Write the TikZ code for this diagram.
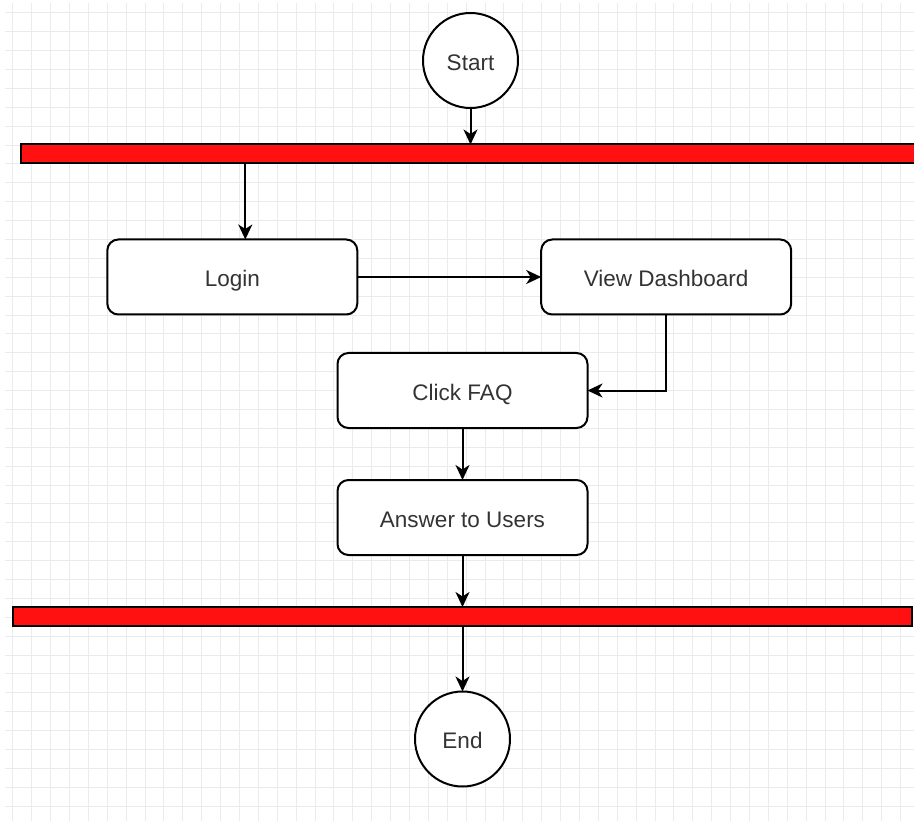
\documentclass[tikz,border=0pt]{standalone}
\usepackage{fontspec}
\setmainfont{Liberation Sans}
\usetikzlibrary{arrows.meta,calc}
\definecolor{gridc}{HTML}{EBEBEB}
\definecolor{txt}{HTML}{333333}
\definecolor{barred}{HTML}{FF1111}
\tikzset{
  txtstyle/.style={text=txt, font=\fontsize{22.5}{27}\selectfont,
    text height=19.2pt, text depth=0pt},
  box/.style={draw=black, line width=2pt, rounded corners=11pt, fill=white,
    minimum width=250pt, minimum height=75pt, inner sep=0pt, outer sep=0pt,
    txtstyle},
  term/.style={draw=black, line width=2pt, circle, fill=white,
    minimum size=95pt, inner sep=0pt, outer sep=0pt, txtstyle},
  bar/.style={draw=black, line width=2pt, fill=barred, rectangle,
    minimum height=19pt, inner sep=0pt, outer sep=0pt},
  arr/.style={draw=black, line width=2pt,
    -{Stealth[length=15pt,width=14pt,inset=4.5pt]}},
}
\begin{document}
\begin{tikzpicture}[x=1pt,y=-1pt]
\clip (0,0) rectangle (914,821);
\fill[white] (0,0) rectangle (914,821);
% grid
\foreach \k in {0,...,48} {
  \draw[gridc, line width=1pt] ({12.8+\k*18.89},3) -- ({12.8+\k*18.89},821);
}
\foreach \k in {0,...,43} {
  \draw[gridc, line width=1pt] (5,{12.8+\k*18.89}) -- (914,{12.8+\k*18.89});
}
% nodes
\node[term] (start) at (470.5,60.5) {Start};
\node[bar, minimum width=900pt] (topbar) at (470.7,154) {};
\node[box] (login) at (232.3,277) {Login};
\node[box] (vd) at (666.2,277) {View Dashboard};
\node[box] (faq) at (462.5,390.5) {Click FAQ};
\node[box] (ans) at (462.5,517.5) {Answer to Users};
\node[bar, minimum width=899pt] (botbar) at (462.5,616.5) {};
\node[term] (end) at (462.5,739) {End};
% connectors
\draw[arr] (start) -- (start.south |- topbar.north);
\draw[arr] ([xshift=13pt]login.north |- topbar.south) -- ([xshift=13pt]login.north);
\draw[arr] (login.east) -- (vd.west);
\draw[arr] (vd.south) |- (faq.east);
\draw[arr] (faq) -- (ans);
\draw[arr] (ans.south) -- (ans.south |- botbar.north);
\draw[arr] (end.north |- botbar.south) -- (end);
\end{tikzpicture}
\end{document}
